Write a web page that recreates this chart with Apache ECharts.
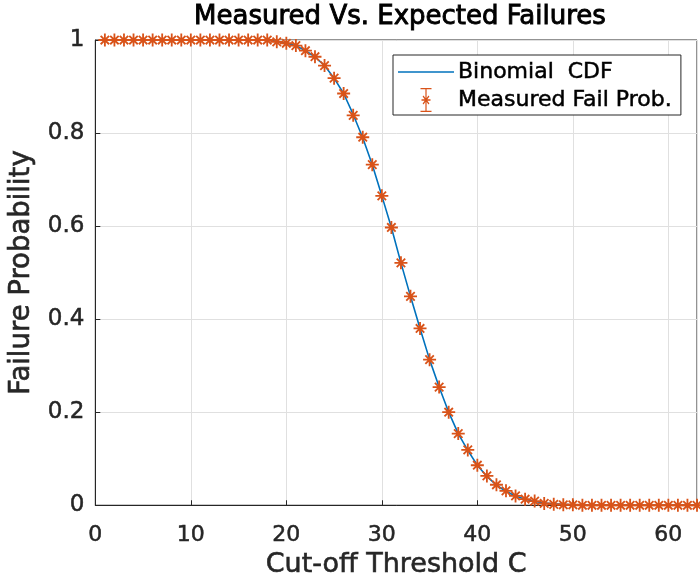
<!DOCTYPE html>
<html>
<head>
<meta charset="utf-8">
<script src="https://cdn.jsdelivr.net/npm/echarts@6/dist/echarts.min.js"></script>
<style>
  html, body { margin: 0; padding: 0; background: #fff; }
  #chart { width: 700px; height: 584px; }
</style>
</head>
<body>
<div id="chart"></div>
<script>
// Cut-off thresholds C = 1..63
const thresholds = [
  1, 2, 3, 4, 5, 6, 7, 8, 9, 10, 11, 12, 13, 14, 15, 16, 17, 18, 19, 20,
  21, 22, 23, 24, 25, 26, 27, 28, 29, 30, 31, 32, 33, 34, 35, 36, 37, 38, 39, 40,
  41, 42, 43, 44, 45, 46, 47, 48, 49, 50, 51, 52, 53, 54, 55, 56, 57, 58, 59, 60,
  61, 62, 63
];

// Expected failure probability (binomial CDF tail)
const binomialCdf = [
  1, 1, 1, 1, 1, 1, 1, 1, 1, 1, 1, 1, 1, 1, 1, 1, 1, 1, 0.997, 0.993,
  0.988, 0.977, 0.964, 0.945, 0.918, 0.885, 0.840, 0.790, 0.732, 0.665,
  0.597, 0.521, 0.449, 0.380, 0.313, 0.254, 0.200, 0.154, 0.118, 0.086,
  0.062, 0.043, 0.030, 0.020, 0.013, 0.008, 0.005, 0.003, 0.002, 0.001,
  0, 0, 0, 0, 0, 0, 0, 0, 0, 0, 0, 0, 0
];

// Measured failure probability
const measuredFail = [
  1, 1, 1, 1, 1, 1, 1, 1, 1, 1, 1, 1, 1, 1, 1, 1, 1, 1, 0.996, 0.993,
  0.988, 0.977, 0.964, 0.945, 0.918, 0.885, 0.838, 0.791, 0.732, 0.665,
  0.597, 0.521, 0.449, 0.380, 0.313, 0.254, 0.200, 0.154, 0.119, 0.086,
  0.063, 0.044, 0.031, 0.020, 0.013, 0.009, 0.004, 0.002, 0.001, 0.001,
  0, 0, 0, 0, 0, 0, 0, 0, 0, 0, 0, 0, 0
];

const xTicks = [0, 10, 20, 30, 40, 50, 60];
const yTicks = [0, 0.2, 0.4, 0.6, 0.8, 1];

const BLUE = '#0072BD';
const ORANGE = '#D95319';
const INK = '#262626';
const FONT = 'DejaVu Sans';

// Slightly heavier glyph strokes for all text
const ink = (size, color, border) => ({
  fontFamily: FONT, fontSize: size, color: color,
  textBorderColor: color, textBorderWidth: border
});

// Asterisk marker built from thin filled bars
const asterisk = 'path://M0 8.6 L20 8.6 L20 11.4 L0 11.4 Z ' +
  'M8.6 0 L11.4 0 L11.4 20 L8.6 20 Z ' +
  'M2.5 4.5 L4.5 2.5 L17.5 15.5 L15.5 17.5 Z ' +
  'M15.5 2.5 L17.5 4.5 L4.5 17.5 L2.5 15.5 Z';

// Legend glyphs, padded to the 56x24 legend item box
const lineIcon = 'path://M0 11.2 L56 11.2 L56 12.8 L0 12.8 Z';
const errIcon = 'path://M0 12 L0.01 12 L0.01 12.01 Z M55.99 12 L56 12 L56 12.01 Z ' +
  'M22.5 0 L33.5 0 L33.5 1.3 L22.5 1.3 Z ' +
  'M22.5 22.7 L33.5 22.7 L33.5 24 L22.5 24 Z ' +
  'M27.4 0 L28.6 0 L28.6 24 L27.4 24 Z ' +
  'M23.5 11.3 L32.5 11.3 L32.5 12.7 L23.5 12.7 Z ' +
  'M24.6 8.5 L25.5 7.6 L31.4 15.5 L30.5 16.4 Z ' +
  'M30.5 7.6 L31.4 8.5 L25.5 16.4 L24.6 15.5 Z';

const lineData = thresholds.map((c, i) => [c, binomialCdf[i]]);
const measData = thresholds.map((c, i) => [c, measuredFail[i]]);

const chart = echarts.init(document.getElementById('chart'), null, { renderer: 'canvas' });

chart.setOption({
  backgroundColor: '#fff',
  animation: false,
  textStyle: { fontFamily: FONT },
  title: {
    text: 'Measured Vs. Expected Failures',
    left: 395,
    textAlign: 'center',
    top: -1,
    textStyle: Object.assign(ink(26, '#000', 0.9), { fontWeight: 'normal' })
  },
  grid: {
    left: 93, top: 40, width: 606, height: 466,
    show: true, borderColor: INK, borderWidth: 1, backgroundColor: '#fff'
  },
  legend: {
    orient: 'vertical',
    left: 393, top: 55,
    padding: [5, 9, 3, 5],
    itemWidth: 56, itemHeight: 24, itemGap: 4,
    backgroundColor: '#fff',
    borderColor: INK, borderWidth: 1, borderRadius: 0,
    textStyle: Object.assign(ink(22, '#000', 0.5), { lineHeight: 24, padding: [0, 0, 0, -1] }),
    data: [
      { name: 'Binomial  CDF', icon: lineIcon, itemStyle: { color: BLUE } },
      { name: 'Measured Fail Prob.', icon: errIcon, itemStyle: { color: ORANGE } }
    ]
  },
  xAxis: {
    type: 'value',
    min: 0, max: 63, interval: 10,
    name: 'Cut-off Threshold C',
    nameLocation: 'middle', nameGap: 46,
    nameTextStyle: ink(27, INK, 0.6),
    axisLine: { show: true, lineStyle: { color: INK, width: 1 } },
    axisTick: { show: true, inside: true, length: 5, lineStyle: { color: INK } },
    axisLabel: Object.assign(ink(22, INK, 0.5), {
      margin: 19,
      formatter: v => (xTicks.includes(v) ? String(v) : '')
    }),
    splitLine: { show: true, lineStyle: { color: '#e0e0e0', width: 1 } }
  },
  yAxis: {
    type: 'value',
    min: 0, max: 1, interval: 0.2,
    name: 'Failure Probability',
    nameLocation: 'middle', nameGap: 57,
    nameTextStyle: ink(27.5, INK, 0.6),
    axisLine: { show: true, lineStyle: { color: INK, width: 1 } },
    axisTick: { show: true, inside: true, length: 5, lineStyle: { color: INK } },
    axisLabel: Object.assign(ink(23, INK, 0.5), {
      margin: 11,
      formatter: v => {
        const t = yTicks.find(k => Math.abs(k - v) < 1e-9);
        return t === undefined ? '' : String(t);
      }
    }),
    splitLine: { show: true, lineStyle: { color: '#e0e0e0', width: 1 } }
  },
  series: [
    {
      name: 'Binomial  CDF',
      type: 'line',
      data: lineData,
      showSymbol: false,
      symbol: 'none',
      lineStyle: { color: BLUE, width: 1.6 },
      itemStyle: { color: BLUE },
      z: 2
    },
    {
      name: 'Measured Fail Prob.',
      type: 'scatter',
      data: measData,
      symbol: asterisk,
      symbolSize: 13,
      itemStyle: { color: ORANGE, opacity: 1 },
      z: 3
    }
  ]
});
</script>
</body>
</html>
